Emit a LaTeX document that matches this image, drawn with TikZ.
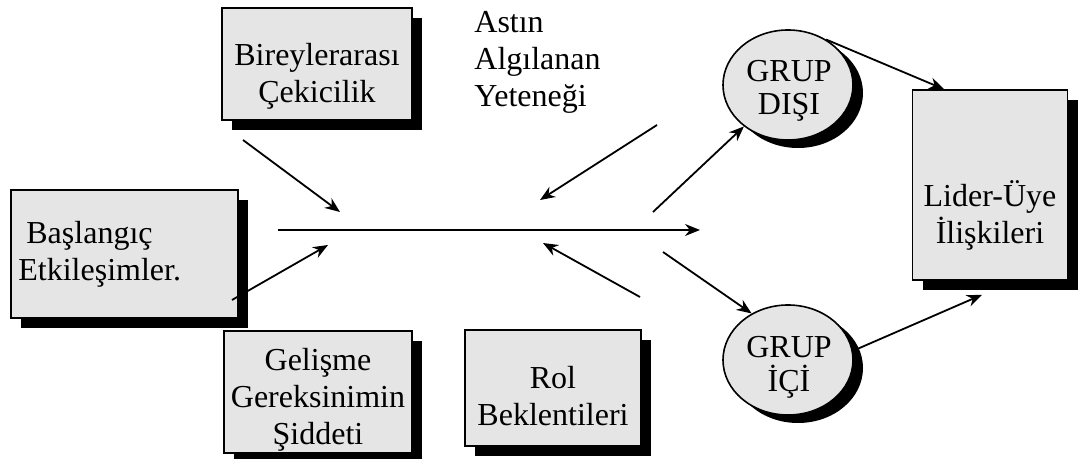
\documentclass[tikz,border=0pt]{standalone}
\usepackage{fontspec}
\setmainfont{Liberation Serif}
\usetikzlibrary{shapes.geometric, arrows.meta, positioning, shadows}

\begin{document}
\begin{tikzpicture}[
    x=0.5pt, y=-0.5pt,
    kutu/.style={rectangle, draw=black, fill=black!10, thick, inner sep=0pt, drop shadow={shadow xshift=5pt, shadow yshift=-5pt, fill=black, opacity=1}},
    yazi/.style={align=center, inner sep=0pt, font=\fontsize{16}{18.5}\selectfont},
    grup/.style={ellipse, draw=black, fill=black!10, thick, inner sep=0pt, minimum width=65pt, minimum height=55pt, drop shadow={shadow xshift=5pt, shadow yshift=-4pt, fill=black, opacity=1}},
    ok/.style={-{Stealth[length=7.5pt, width=6pt]}, line width=0.9pt}
]
    \useasboundingbox (0,0) rectangle (1078,459);

    % kutular
    \node (bir) [kutu, minimum width=95pt, minimum height=56pt] at (317,64) {};
    \node (bas) [kutu, minimum width=113.5pt, minimum height=64pt] at (124.5,254) {};
    \node (gel) [kutu, minimum width=94pt, minimum height=61pt] at (318,392) {};
    \node (rol) [kutu, minimum width=88pt, minimum height=58pt] at (553,388) {};
    \node (lid) [kutu, minimum width=77.5pt, minimum height=95pt] at (990,185) {};
    \node (dis) [grup] at (788,85) {};
    \node (ici) [grup] at (788,360) {};

    % yazilar
    \node (birY) [yazi] at (317,76) {Bireylerarası\\Çekicilik};
    \node (basY) [yazi, align=left, anchor=west] at (18,254) {\ Başlangıç\\Etkileşimler.};
    \node (gelY) [yazi] at (318,400) {Gelişme\\Gereksinimin\\Şiddeti};
    \node (rolY) [yazi] at (553,396) {Rol\\Beklentileri};
    \node (lidY) [yazi] at (990,215) {Lider-Üye\\İlişkileri};
    \node (ast) [yazi, align=left, anchor=north west] at (474,11) {Astın\\Algılanan\\Yeteneği};
    \node (disY) [yazi, font=\fontsize{16}{16.5}\selectfont] at (789,91) {GRUP\\DIŞI};
    \node (iciY) [yazi, font=\fontsize{16}{17}\selectfont] at (789,367) {GRUP\\İÇİ};

    % serbest uclar
    \coordinate (m1) at (278,230);
    \coordinate (m2) at (700,230);
    \coordinate (b1) at (243,140);
    \coordinate (b2) at (340,212);
    \coordinate (s1) at (232,300);
    \coordinate (s2) at (328,245);
    \coordinate (a1) at (657,125);
    \coordinate (a2) at (540,200);
    \coordinate (r1) at (640,297);
    \coordinate (r2) at (543,243);
    \coordinate (d1) at (653,212);
    \coordinate (i1) at (663,252);

    \draw[ok] (m1) -- (m2);
    \draw[ok] (b1) -- (b2);
    \draw[ok] (s1) -- (s2);
    \draw[ok] (a1) -- (a2);
    \draw[ok] (r1) -- (r2);
    \draw[ok] (d1) -- (dis);
    \draw[ok] (i1) -- (ici.128);
    \draw[ok] (dis.50) -- ([xshift=-23pt]lid.north);
    \draw[ok] (ici.8) -- ([xshift=-4pt, yshift=-7pt]lid.south);
\end{tikzpicture}
\end{document}
